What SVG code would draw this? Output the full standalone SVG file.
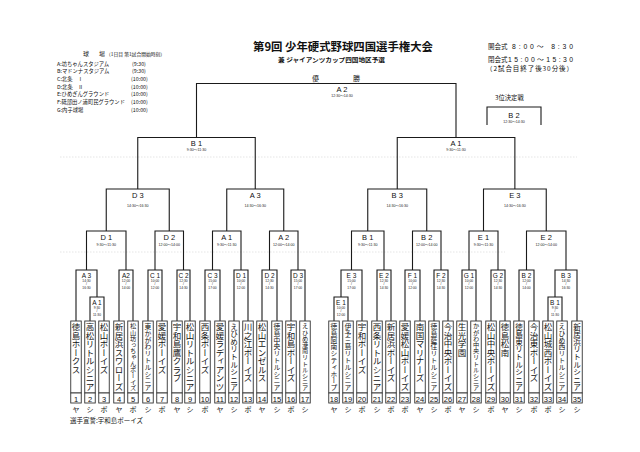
<svg xmlns="http://www.w3.org/2000/svg" width="640" height="452" viewBox="0 0 640 452">
<style>
.ln{fill:none;stroke:#1a1a1a;stroke-width:1.1}
.dl{fill:none;stroke:#c8c8c8;stroke-width:0.5;stroke-dasharray:1.5 1.5}
.tb{fill:#fff;stroke:#333;stroke-width:0.9}
.jp{font-family:"Noto Sans CJK JP","Noto Sans",sans-serif;fill:#111}
.nm{font-family:"Noto Sans CJK JP",sans-serif;writing-mode:vertical-rl;fill:#111}
.lb{font-family:"Liberation Sans","Noto Sans CJK JP",sans-serif;fill:#111;text-anchor:middle}
.s1{font-size:6.5px}
.s2{font-size:7.5px}
.tm{font-family:"Liberation Sans","Noto Sans CJK JP",sans-serif;fill:#222;text-anchor:middle;font-size:3.3px}
.tm2{font-family:"Liberation Sans","Noto Sans CJK JP",sans-serif;fill:#222;text-anchor:middle;font-size:3.6px}
.no{font-family:"Liberation Sans",sans-serif;font-size:7.5px;text-anchor:middle;fill:#111}
.ty{font-family:"Noto Sans CJK JP",sans-serif;font-size:7px;text-anchor:middle;fill:#111}
.lg{font-family:"Noto Sans CJK JP",sans-serif;font-size:5.3px;fill:#111}
</style>
<rect width="640" height="452" fill="#fff"/>

<g id="header">
<text class="jp" x="253" y="51" font-size="11.4" font-weight="bold" textLength="180" lengthAdjust="spacingAndGlyphs">第9回 少年硬式野球四国選手権大会</text>
<text class="jp" x="278" y="61.5" font-size="6.2" font-weight="bold" textLength="107" lengthAdjust="spacingAndGlyphs">兼 ジャイアンツカップ四国地区予選</text>
<text class="jp" x="312" y="80.5" font-size="7">優</text>
<text class="jp" x="353" y="80.5" font-size="7">勝</text>
</g>

<g id="legend">
<text class="jp" x="83" y="56" font-size="6">球</text>
<text class="jp" x="99" y="56" font-size="6">場</text>
<text class="jp" x="106" y="56" font-size="4.8">（1日目 第1試合開始時刻）</text>
<text class="lg" x="57" y="65.5">A:坊ちゃんスタジアム</text><text class="lg" x="132" y="65.5">(9:30)</text>
<text class="lg" x="57" y="73.2">B:マドンナスタジアム</text><text class="lg" x="132" y="73.2">(9:30)</text>
<text class="lg" x="57" y="80.9">C:北条　Ⅰ</text><text class="lg" x="131" y="80.9">(10:00)</text>
<text class="lg" x="57" y="88.6">D:北条　Ⅱ</text><text class="lg" x="131" y="88.6">(10:00)</text>
<text class="lg" x="57" y="96.3">E:ひめぎんグラウンド</text><text class="lg" x="131" y="96.3">(10:00)</text>
<text class="lg" x="57" y="104">F:砥部田ノ浦町民グラウンド</text><text class="lg" x="131" y="104">(10:00)</text>
<text class="lg" x="57" y="111.7">G:内子球場</text><text class="lg" x="131" y="111.7">(10:00)</text>
</g>

<g id="schedule">
<text class="jp" x="488" y="49" font-size="6.5">開会式</text>
<text class="lb" x="542.5" y="49" font-size="6.8" textLength="61" lengthAdjust="spacing">8:00〜 8:30</text>
<text class="jp" x="488" y="62" font-size="6.5">閉会式</text>
<text class="lb" x="540.5" y="62" font-size="6.8" textLength="65" lengthAdjust="spacing">15:00〜15:30</text>
<text class="jp" x="486" y="71" font-size="6.5" textLength="87" lengthAdjust="spacing">（2試合目終了後30分後）</text>
<text class="jp" x="495" y="100" font-size="6.3">3位決定戦</text>
</g>

<g id="daylines">
<path class="dl" d="M60 157H577M60 252H505"/>
</g>

<g id="connectors">
<path class="ln" d="M196.5 137.5V83.5H456V137.5"/>
<path class="ln" d="M487 125V107H541V125"/>
<path class="ln" d="M137.75 189V137.5H255.25V189"/>
<path class="ln" d="M397.25 189V137.5H514.875V189"/>
<path class="ln" d="M106.25 231V189H169.25V231"/>
<path class="ln" d="M226.75 231V189H283.75V231"/>
<path class="ln" d="M367.75 231V189H426.75V231"/>
<path class="ln" d="M483.5 231V189H546.25V231"/>
<path class="ln" d="M86.5 270V231H126V270"/>
<path class="ln" d="M155 270V231H183.5V270"/>
<path class="ln" d="M212.5 270V231H241V270"/>
<path class="ln" d="M269.5 270V231H298V270"/>
<path class="ln" d="M351.5 270V231H384V270"/>
<path class="ln" d="M412.5 270V231H441V270"/>
<path class="ln" d="M469 270V231H498V270"/>
<path class="ln" d="M526.5 270V231H566V270"/>
<path class="ln" d="M90 321V297H104V321"/>
<path class="ln" d="M76 321V270H97V297"/>
<path class="ln" d="M119 321V270H133V321"/>
<path class="ln" d="M148 321V270H162V321"/>
<path class="ln" d="M177 321V270H190V321"/>
<path class="ln" d="M205 321V270H220V321"/>
<path class="ln" d="M234 321V270H248V321"/>
<path class="ln" d="M262 321V270H277V321"/>
<path class="ln" d="M291 321V270H305V321"/>
<path class="ln" d="M334 321V297H348V321"/>
<path class="ln" d="M341 297V270H362V321"/>
<path class="ln" d="M377 321V270H391V321"/>
<path class="ln" d="M405 321V270H420V321"/>
<path class="ln" d="M434 321V270H448V321"/>
<path class="ln" d="M462 321V270H476V321"/>
<path class="ln" d="M491 321V270H505V321"/>
<path class="ln" d="M519 321V270H534V321"/>
<path class="ln" d="M548 321V297H562V321"/>
<path class="ln" d="M555 297V270H577V321"/>
</g>

<g id="match-labels">
<g id="m-final"><text class="lb s2" x="342" y="91.5">A 2</text><text class="tm2" x="342" y="96.5">12:30〜14:30</text></g>
<g id="m-third"><text class="lb s2" x="514" y="118">B 2</text><text class="tm2" x="514" y="122.5">12:30〜14:30</text></g>
<g id="m-sf1"><text class="lb s2" x="196.5" y="146">B 1</text><text class="tm2" x="196.5" y="150.5">9:30〜11:30</text></g>
<g id="m-sf2"><text class="lb s2" x="456" y="146">A 1</text><text class="tm2" x="456" y="150.5">9:30〜11:30</text></g>
<g id="m-qf1"><text class="lb s2" x="137.75" y="198">D 3</text><text class="tm2" x="137.75" y="206.5">14:30〜16:30</text></g>
<g id="m-qf2"><text class="lb s2" x="255.25" y="198">A 3</text><text class="tm2" x="255.25" y="206.5">14:30〜16:30</text></g>
<g id="m-qf3"><text class="lb s2" x="397.25" y="198">B 3</text><text class="tm2" x="397.25" y="206.5">14:30〜16:30</text></g>
<g id="m-qf4"><text class="lb s2" x="514.9" y="198">E 3</text><text class="tm2" x="514.9" y="206.5">14:30〜16:30</text></g>
<g id="m-r2-1"><text class="lb s2" x="106.25" y="240">D 1</text><text class="tm2" x="106.25" y="246">9:30〜11:30</text></g>
<g id="m-r2-2"><text class="lb s2" x="169.25" y="240">D 2</text><text class="tm2" x="169.25" y="246">12:00〜14:00</text></g>
<g id="m-r2-3"><text class="lb s2" x="226.75" y="240">A 1</text><text class="tm2" x="226.75" y="246">9:30〜11:30</text></g>
<g id="m-r2-4"><text class="lb s2" x="283.75" y="240">A 2</text><text class="tm2" x="283.75" y="246">12:00〜14:00</text></g>
<g id="m-r2-5"><text class="lb s2" x="367.75" y="240">B 1</text><text class="tm2" x="367.75" y="246">9:30〜11:30</text></g>
<g id="m-r2-6"><text class="lb s2" x="426.75" y="240">B 2</text><text class="tm2" x="426.75" y="246">12:00〜14:00</text></g>
<g id="m-r2-7"><text class="lb s2" x="483.5" y="240">E 1</text><text class="tm2" x="483.5" y="246">9:30〜11:30</text></g>
<g id="m-r2-8"><text class="lb s2" x="546.25" y="240">E 2</text><text class="tm2" x="546.25" y="246">12:00〜14:00</text></g>

<g id="m-r1-a1"><text class="lb s1" x="97" y="304.5">A 1</text><text class="tm" x="97" y="308.5">9:30</text><text class="tm" x="97" y="312">/</text><text class="tm" x="97" y="316">11:30</text></g>
<g id="m-r1-a3"><text class="lb s1" x="86.5" y="277.5">A 3</text><text class="tm" x="86.5" y="281.5">14:30</text><text class="tm" x="86.5" y="285">/</text><text class="tm" x="86.5" y="289">16:30</text></g>
<g id="m-r1-a2"><text class="lb s1" x="126" y="277.5">A2</text><text class="tm" x="126" y="281.5">12:00</text><text class="tm" x="126" y="285">/</text><text class="tm" x="126" y="289">14:00</text></g>
<g id="m-r1-c1"><text class="lb s1" x="155" y="277.5">C 1</text><text class="tm" x="155" y="281.5">10:00</text><text class="tm" x="155" y="285">/</text><text class="tm" x="155" y="289">12:00</text></g>
<g id="m-r1-c2"><text class="lb s1" x="183.5" y="277.5">C 2</text><text class="tm" x="183.5" y="281.5">12:30</text><text class="tm" x="183.5" y="285">/</text><text class="tm" x="183.5" y="289">14:30</text></g>
<g id="m-r1-c3"><text class="lb s1" x="212.5" y="277.5">C 3</text><text class="tm" x="212.5" y="281.5">15:00</text><text class="tm" x="212.5" y="285">/</text><text class="tm" x="212.5" y="289">17:00</text></g>
<g id="m-r1-d1"><text class="lb s1" x="241" y="277.5">D 1</text><text class="tm" x="241" y="281.5">10:00</text><text class="tm" x="241" y="285">/</text><text class="tm" x="241" y="289">12:00</text></g>
<g id="m-r1-d2"><text class="lb s1" x="269.5" y="277.5">D 2</text><text class="tm" x="269.5" y="281.5">12:30</text><text class="tm" x="269.5" y="285">/</text><text class="tm" x="269.5" y="289">14:30</text></g>
<g id="m-r1-d3"><text class="lb s1" x="298" y="277.5">D 3</text><text class="tm" x="298" y="281.5">15:00</text><text class="tm" x="298" y="285">/</text><text class="tm" x="298" y="289">17:00</text></g>
<g id="m-r1-e1"><text class="lb s1" x="341" y="304.5">E 1</text><text class="tm" x="341" y="308.5">10:00</text><text class="tm" x="341" y="312">/</text><text class="tm" x="341" y="316">12:00</text></g>
<g id="m-r1-e3"><text class="lb s1" x="351.5" y="277.5">E 3</text><text class="tm" x="351.5" y="281.5">15:00</text><text class="tm" x="351.5" y="285">/</text><text class="tm" x="351.5" y="289">17:00</text></g>
<g id="m-r1-e2"><text class="lb s1" x="384" y="277.5">E 2</text><text class="tm" x="384" y="281.5">12:30</text><text class="tm" x="384" y="285">/</text><text class="tm" x="384" y="289">14:30</text></g>
<g id="m-r1-f1"><text class="lb s1" x="412.5" y="277.5">F 1</text><text class="tm" x="412.5" y="281.5">10:00</text><text class="tm" x="412.5" y="285">/</text><text class="tm" x="412.5" y="289">12:00</text></g>
<g id="m-r1-f2"><text class="lb s1" x="441" y="277.5">F 2</text><text class="tm" x="441" y="281.5">12:30</text><text class="tm" x="441" y="285">/</text><text class="tm" x="441" y="289">14:30</text></g>
<g id="m-r1-g1"><text class="lb s1" x="469" y="277.5">G 1</text><text class="tm" x="469" y="281.5">10:00</text><text class="tm" x="469" y="285">/</text><text class="tm" x="469" y="289">12:00</text></g>
<g id="m-r1-g2"><text class="lb s1" x="498" y="277.5">G 2</text><text class="tm" x="498" y="281.5">12:30</text><text class="tm" x="498" y="285">/</text><text class="tm" x="498" y="289">14:30</text></g>
<g id="m-r1-b2"><text class="lb s1" x="526.5" y="277.5">B 2</text><text class="tm" x="526.5" y="281.5">12:00</text><text class="tm" x="526.5" y="285">/</text><text class="tm" x="526.5" y="289">14:00</text></g>
<g id="m-r1-b1"><text class="lb s1" x="555" y="304.5">B 1</text><text class="tm" x="555" y="308.5">9:30</text><text class="tm" x="555" y="312">/</text><text class="tm" x="555" y="316">11:30</text></g>
<g id="m-r1-b3"><text class="lb s1" x="566" y="277.5">B 3</text><text class="tm" x="566" y="281.5">14:30</text><text class="tm" x="566" y="285">/</text><text class="tm" x="566" y="289">16:30</text></g>
</g>

<g id="teams">
<g id="team-1"><rect class="tb" x="70.75" y="321" width="10.5" height="72"/><text class="nm" x="76" y="323" font-size="8.5">徳島ホークス</text><rect class="tb" x="70.75" y="393" width="10.5" height="10"/><text class="no" x="76" y="401.5">1</text><text class="ty" x="76" y="411.5">ヤ</text></g>
<g id="team-2"><rect class="tb" x="84.75" y="321" width="10.5" height="72"/><text class="nm" x="90" y="323" font-size="8.5">高松リトルシニア</text><rect class="tb" x="84.75" y="393" width="10.5" height="10"/><text class="no" x="90" y="401.5">2</text><text class="ty" x="90" y="411.5">シ</text></g>
<g id="team-3"><rect class="tb" x="98.75" y="321" width="10.5" height="72"/><text class="nm" x="104" y="323" font-size="8.5">松山ボーイズ</text><rect class="tb" x="98.75" y="393" width="10.5" height="10"/><text class="no" x="104" y="401.5">3</text><text class="ty" x="104" y="411.5">ボ</text></g>
<g id="team-4"><rect class="tb" x="113.75" y="321" width="10.5" height="72"/><text class="nm" x="119" y="323" font-size="8.5">新居浜スワローズ</text><rect class="tb" x="113.75" y="393" width="10.5" height="10"/><text class="no" x="119" y="401.5">4</text><text class="ty" x="119" y="411.5">ヤ</text></g>
<g id="team-5"><rect class="tb" x="127.75" y="321" width="10.5" height="72"/><text class="nm" x="133" y="323" font-size="6.2">松山坊っちゃんボーイズ</text><rect class="tb" x="127.75" y="393" width="10.5" height="10"/><text class="no" x="133" y="401.5">5</text><text class="ty" x="133" y="411.5">ボ</text></g>
<g id="team-6"><rect class="tb" x="142.75" y="321" width="10.5" height="72"/><text class="nm" x="148" y="323" font-size="6.8">東かがわリトルシニア</text><rect class="tb" x="142.75" y="393" width="10.5" height="10"/><text class="no" x="148" y="401.5">6</text><text class="ty" x="148" y="411.5">シ</text></g>
<g id="team-7"><rect class="tb" x="156.75" y="321" width="10.5" height="72"/><text class="nm" x="162" y="323" font-size="8.5">愛媛ボーイズ</text><rect class="tb" x="156.75" y="393" width="10.5" height="10"/><text class="no" x="162" y="401.5">7</text><text class="ty" x="162" y="411.5">ボ</text></g>
<g id="team-8"><rect class="tb" x="171.75" y="321" width="10.5" height="72"/><text class="nm" x="177" y="323" font-size="8.5">宇和島鷹クラブ</text><rect class="tb" x="171.75" y="393" width="10.5" height="10"/><text class="no" x="177" y="401.5">8</text><text class="ty" x="177" y="411.5">ヤ</text></g>
<g id="team-9"><rect class="tb" x="184.75" y="321" width="10.5" height="72"/><text class="nm" x="190" y="323" font-size="8.5">松山リトルシニア</text><rect class="tb" x="184.75" y="393" width="10.5" height="10"/><text class="no" x="190" y="401.5">9</text><text class="ty" x="190" y="411.5">シ</text></g>
<g id="team-10"><rect class="tb" x="199.75" y="321" width="10.5" height="72"/><text class="nm" x="205" y="323" font-size="8.5">西条ボーイズ</text><rect class="tb" x="199.75" y="393" width="10.5" height="10"/><text class="no" x="205" y="401.5">10</text><text class="ty" x="205" y="411.5">ボ</text></g>
<g id="team-11"><rect class="tb" x="214.75" y="321" width="10.5" height="72"/><text class="nm" x="220" y="323" font-size="8.5">愛媛ラディアンツ</text><rect class="tb" x="214.75" y="393" width="10.5" height="10"/><text class="no" x="220" y="401.5">11</text><text class="ty" x="220" y="411.5">ヤ</text></g>
<g id="team-12"><rect class="tb" x="228.75" y="321" width="10.5" height="72"/><text class="nm" x="234" y="323" font-size="7.6">えひめリトルシニア</text><rect class="tb" x="228.75" y="393" width="10.5" height="10"/><text class="no" x="234" y="401.5">12</text><text class="ty" x="234" y="411.5">シ</text></g>
<g id="team-13"><rect class="tb" x="242.75" y="321" width="10.5" height="72"/><text class="nm" x="248" y="323" font-size="8.5">川之江ボーイズ</text><rect class="tb" x="242.75" y="393" width="10.5" height="10"/><text class="no" x="248" y="401.5">13</text><text class="ty" x="248" y="411.5">ボ</text></g>
<g id="team-14"><rect class="tb" x="256.75" y="321" width="10.5" height="72"/><text class="nm" x="262" y="323" font-size="8.5">松山エンゼルス</text><rect class="tb" x="256.75" y="393" width="10.5" height="10"/><text class="no" x="262" y="401.5">14</text><text class="ty" x="262" y="411.5">ヤ</text></g>
<g id="team-15"><rect class="tb" x="271.75" y="321" width="10.5" height="72"/><text class="nm" x="277" y="323" font-size="6.8">徳島中央リトルシニア</text><rect class="tb" x="271.75" y="393" width="10.5" height="10"/><text class="no" x="277" y="401.5">15</text><text class="ty" x="277" y="411.5">シ</text></g>
<g id="team-16"><rect class="tb" x="285.75" y="321" width="10.5" height="72"/><text class="nm" x="291" y="323" font-size="8.5">宇和島ボーイズ</text><rect class="tb" x="285.75" y="393" width="10.5" height="10"/><text class="no" x="291" y="401.5">16</text><text class="ty" x="291" y="411.5">ボ</text></g>
<g id="team-17"><rect class="tb" x="299.75" y="321" width="10.5" height="72"/><text class="nm" x="305" y="323" font-size="6.2">えひめ港南リトルシニア</text><rect class="tb" x="299.75" y="393" width="10.5" height="10"/><text class="no" x="305" y="401.5">17</text><text class="ty" x="305" y="411.5">シ</text></g>
<g id="team-18"><rect class="tb" x="328.75" y="321" width="10.5" height="72"/><text class="nm" x="334" y="323" font-size="6.8">徳島阿南シティホープ</text><rect class="tb" x="328.75" y="393" width="10.5" height="10"/><text class="no" x="334" y="401.5">18</text><text class="ty" x="334" y="411.5">ヤ</text></g>
<g id="team-19"><rect class="tb" x="342.75" y="321" width="10.5" height="72"/><text class="nm" x="348" y="323" font-size="6.8">伊予三島リトルシニア</text><rect class="tb" x="342.75" y="393" width="10.5" height="10"/><text class="no" x="348" y="401.5">19</text><text class="ty" x="348" y="411.5">シ</text></g>
<g id="team-20"><rect class="tb" x="356.75" y="321" width="10.5" height="72"/><text class="nm" x="362" y="323" font-size="8.5">宇和ボーイズ</text><rect class="tb" x="356.75" y="393" width="10.5" height="10"/><text class="no" x="362" y="401.5">20</text><text class="ty" x="362" y="411.5">ボ</text></g>
<g id="team-21"><rect class="tb" x="371.75" y="321" width="10.5" height="72"/><text class="nm" x="377" y="323" font-size="8.5">西条リトルシニア</text><rect class="tb" x="371.75" y="393" width="10.5" height="10"/><text class="no" x="377" y="401.5">21</text><text class="ty" x="377" y="411.5">シ</text></g>
<g id="team-22"><rect class="tb" x="385.75" y="321" width="10.5" height="72"/><text class="nm" x="391" y="323" font-size="8.5">新居浜ボーイズ</text><rect class="tb" x="385.75" y="393" width="10.5" height="10"/><text class="no" x="391" y="401.5">22</text><text class="ty" x="391" y="411.5">ボ</text></g>
<g id="team-23"><rect class="tb" x="399.75" y="321" width="10.5" height="72"/><text class="nm" x="405" y="323" font-size="8.5">愛媛松山ボーイズ</text><rect class="tb" x="399.75" y="393" width="10.5" height="10"/><text class="no" x="405" y="401.5">23</text><text class="ty" x="405" y="411.5">ボ</text></g>
<g id="team-24"><rect class="tb" x="414.75" y="321" width="10.5" height="72"/><text class="nm" x="420" y="323" font-size="8.5">南国マリナーズ</text><rect class="tb" x="414.75" y="393" width="10.5" height="10"/><text class="no" x="420" y="401.5">24</text><text class="ty" x="420" y="411.5">ヤ</text></g>
<g id="team-25"><rect class="tb" x="428.75" y="321" width="10.5" height="72"/><text class="nm" x="434" y="323" font-size="6.8">徳島藍住リトルシニア</text><rect class="tb" x="428.75" y="393" width="10.5" height="10"/><text class="no" x="434" y="401.5">25</text><text class="ty" x="434" y="411.5">シ</text></g>
<g id="team-26"><rect class="tb" x="442.75" y="321" width="10.5" height="72"/><text class="nm" x="448" y="323" font-size="8.5">今治中央ボーイズ</text><rect class="tb" x="442.75" y="393" width="10.5" height="10"/><text class="no" x="448" y="401.5">26</text><text class="ty" x="448" y="411.5">ボ</text></g>
<g id="team-27"><rect class="tb" x="456.75" y="321" width="10.5" height="72"/><text class="nm" x="462" y="323" font-size="8.5">生光学園</text><rect class="tb" x="456.75" y="393" width="10.5" height="10"/><text class="no" x="462" y="401.5">27</text><text class="ty" x="462" y="411.5">ヤ</text></g>
<g id="team-28"><rect class="tb" x="470.75" y="321" width="10.5" height="72"/><text class="nm" x="476" y="323" font-size="6.2">かがわ中央リトルシニア</text><rect class="tb" x="470.75" y="393" width="10.5" height="10"/><text class="no" x="476" y="401.5">28</text><text class="ty" x="476" y="411.5">シ</text></g>
<g id="team-29"><rect class="tb" x="485.75" y="321" width="10.5" height="72"/><text class="nm" x="491" y="323" font-size="8.5">松山中央ボーイズ</text><rect class="tb" x="485.75" y="393" width="10.5" height="10"/><text class="no" x="491" y="401.5">29</text><text class="ty" x="491" y="411.5">ボ</text></g>
<g id="team-30"><rect class="tb" x="499.75" y="321" width="10.5" height="72"/><text class="nm" x="505" y="323" font-size="8.5">徳島松南</text><rect class="tb" x="499.75" y="393" width="10.5" height="10"/><text class="no" x="505" y="401.5">30</text><text class="ty" x="505" y="411.5">ヤ</text></g>
<g id="team-31"><rect class="tb" x="513.75" y="321" width="10.5" height="72"/><text class="nm" x="519" y="323" font-size="7.6">徳島東リトルシニア</text><rect class="tb" x="513.75" y="393" width="10.5" height="10"/><text class="no" x="519" y="401.5">31</text><text class="ty" x="519" y="411.5">シ</text></g>
<g id="team-32"><rect class="tb" x="528.75" y="321" width="10.5" height="72"/><text class="nm" x="534" y="323" font-size="8.5">今治東ボーイズ</text><rect class="tb" x="528.75" y="393" width="10.5" height="10"/><text class="no" x="534" y="401.5">32</text><text class="ty" x="534" y="411.5">ボ</text></g>
<g id="team-33"><rect class="tb" x="542.75" y="321" width="10.5" height="72"/><text class="nm" x="548" y="323" font-size="8.5">松山城西ボーイズ</text><rect class="tb" x="542.75" y="393" width="10.5" height="10"/><text class="no" x="548" y="401.5">33</text><text class="ty" x="548" y="411.5">ボ</text></g>
<g id="team-34"><rect class="tb" x="556.75" y="321" width="10.5" height="72"/><text class="nm" x="562" y="323" font-size="6.8">えひめ西リトルシニア</text><rect class="tb" x="556.75" y="393" width="10.5" height="10"/><text class="no" x="562" y="401.5">34</text><text class="ty" x="562" y="411.5">シ</text></g>
<g id="team-35"><rect class="tb" x="571.75" y="321" width="10.5" height="72"/><text class="nm" x="577" y="323" font-size="7.6">新居浜リトルシニア</text><rect class="tb" x="571.75" y="393" width="10.5" height="10"/><text class="no" x="577" y="401.5">35</text><text class="ty" x="577" y="411.5">シ</text></g>
</g>

<g id="footer">
<text class="jp" x="70" y="422.5" font-size="6.5">選手宣誓:宇和島ボーイズ</text>
</g>
</svg>
